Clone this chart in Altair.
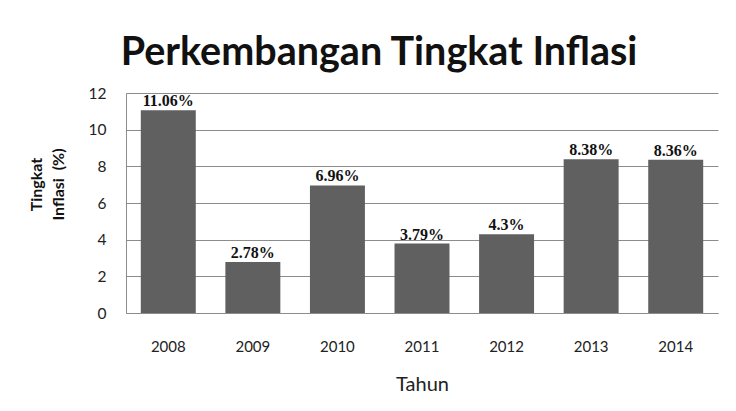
import altair as alt
import pandas as pd

years = ["2008", "2009", "2010", "2011", "2012", "2013", "2014"]
inflation = [11.06, 2.78, 6.96, 3.79, 4.3, 8.38, 8.36]

df = pd.DataFrame({"Tahun": years, "Inflasi": inflation})

base = alt.Chart(df).encode(
    x=alt.X(
        "Tahun:N",
        sort=years,
        scale=alt.Scale(paddingInner=0.35, paddingOuter=0.175),
        axis=alt.Axis(
            title="Tahun",
            labelAngle=0,
            labelFont="Lato",
            labelFontSize=15,
            labelColor="#222222",
            labelPadding=26,
            ticks=False,
            domainColor="#8c8c8c",
            titleFont="Lato",
            titleFontSize=20,
            titleFontWeight="normal",
            titleColor="#222222",
            titlePadding=20,
            grid=False,
        ),
    ),
    y=alt.Y(
        "Inflasi:Q",
        scale=alt.Scale(domain=[0, 12]),
        axis=alt.Axis(
            title=["Tingkat", "Inflasi\u00a0\u00a0(%)"],
            values=[0, 2, 4, 6, 8, 10, 12],
            labelFont="Lato",
            labelFontSize=15.5,
            labelColor="#222222",
            labelPadding=20,
            ticks=False,
            domainColor="#8c8c8c",
            gridColor="#8c8c8c",
            titleFont="Lato",
            titleFontSize=16,
            titleFontWeight="bold",
            titleColor="#111111",
            titlePadding=22,
            titleLineHeight=22,
            titleY=91,
        ),
    ),
)

bars = base.mark_bar(color="#606060")

labels = base.transform_calculate(
    lbl="datum.Inflasi + '%'"
).mark_text(
    font="Liberation Serif",
    fontSize=16,
    fontWeight="bold",
    color="#111111",
    baseline="bottom",
    dy=-1,
).encode(text="lbl:N")

chart = (
    alt.layer(bars, labels)
    .properties(
        width=592,
        height=220,
        title=alt.TitleParams(
            "Perkembangan Tingkat Inflasi",
            font="Lato",
            fontSize=39.5,
            fontWeight="bold",
            color="#111111",
            anchor="middle",
            dx=-43,
            offset=13,
        ),
        padding={"left": 118, "top": 85, "right": 10, "bottom": 80},
        autosize=alt.AutoSizeParams(type="none"),
    )
    .configure_view(stroke=None)
)

chart.save("out.html", embed_options={"renderer": "svg", "actions": False})
